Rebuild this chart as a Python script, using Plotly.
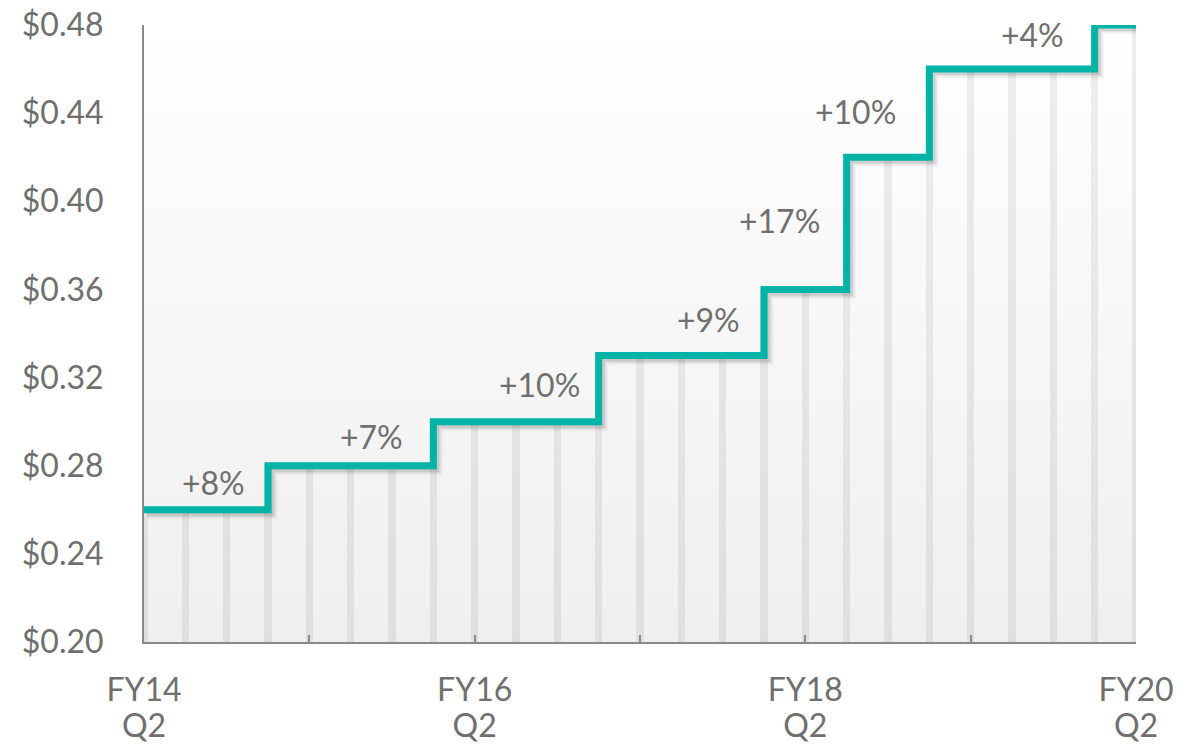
import plotly.graph_objects as go

# quarterly dividend per share, FY14 Q2 .. FY20 Q2
quarters = list(range(25))
dividend = [0.26] * 3 + [0.28] * 4 + [0.30] * 4 + [0.33] * 4 + [0.36] * 2 + [0.42] * 2 + [0.46] * 4 + [0.48] * 2

# dividend raises: quarter where the step happens and the label
raise_quarters = [3, 7, 11, 15, 17, 19, 23]
raise_labels = ["+8%", "+7%", "+10%", "+9%", "+17%", "+10%", "+4%"]

tick_quarters = [0, 4, 8, 12, 16, 20, 24]
tick_years = ["FY14", "", "FY16", "", "FY18", "", "FY20"]
tick_quarter_names = ["Q2", "", "Q2", "", "Q2", "", "Q2"]

y_ticks = [0.20, 0.24, 0.28, 0.32, 0.36, 0.40, 0.44, 0.48]

FONT = "Lato, 'Open Sans', sans-serif"
GREY = "#6f6f6f"
AXIS_GREY = "#8a8a8a"
TEAL = "#00b3a7"
X_RANGE = [0, 24]
Y_RANGE = [0.20, 0.48]

fig = go.Figure()

# gradient background of the plot area (base subplot, drawn first)
fig.add_trace(
    go.Scatter(
        x=X_RANGE,
        y=[Y_RANGE[1], Y_RANGE[1]],
        mode="lines",
        line={"width": 0},
        fill="tozeroy",
        fillgradient={
            "type": "vertical",
            "colorscale": [[0, "#efefef"], [1, "#ffffff"]],
            "start": Y_RANGE[0],
            "stop": Y_RANGE[1],
        },
        hoverinfo="skip",
        showlegend=False,
    )
)

# thin quarter bars
fig.add_trace(
    go.Bar(
        x=quarters,
        y=dividend,
        width=0.17,
        marker={"color": "rgba(0,0,0,0.065)", "line": {"width": 0}},
        xaxis="x2",
        yaxis="y2",
        hoverinfo="skip",
        showlegend=False,
    )
)

# soft shadow of the step line, drawn on slightly offset axes
for width, alpha in [(13, 0.04), (9, 0.07), (6, 0.08)]:
    fig.add_trace(
        go.Scatter(
            x=quarters,
            y=dividend,
            mode="lines",
            line={"shape": "hv", "color": f"rgba(0,0,0,{alpha})", "width": width},
            xaxis="x3",
            yaxis="y3",
            hoverinfo="skip",
            showlegend=False,
        )
    )

fig.add_trace(
    go.Scatter(
        x=quarters,
        y=dividend,
        mode="lines",
        line={"shape": "hv", "color": TEAL, "width": 7},
        xaxis="x4",
        yaxis="y4",
        showlegend=False,
    )
)

label_yshift = [27, 29, 37, 36, 69, 46, 35]
label_xshift = [-21, -28, -17, -22, -25, -31, -29]
annotations = []
for q, text, ys, xs in zip(raise_quarters, raise_labels, label_yshift, label_xshift):
    annotations.append(
        go.layout.Annotation(
            x=q,
            y=dividend[q - 1],
            text=text,
            showarrow=False,
            xanchor="right",
            yanchor="middle",
            xshift=xs,
            yshift=ys,
            font={"family": FONT, "size": 32, "color": GREY},
        )
    )

dx = 3 * (X_RANGE[1] - X_RANGE[0]) / 992
dy = 3 * (Y_RANGE[1] - Y_RANGE[0]) / 617
hidden = {"visible": False, "automargin": False}
tick_font = {"family": FONT, "size": 32, "color": GREY}

fig.update_layout(
    width=1187,
    height=744,
    autosize=False,
    margin={"l": 144, "r": 51, "t": 25, "b": 102},
    paper_bgcolor="white",
    plot_bgcolor="white",
    bargap=0,
    showlegend=False,
    annotations=annotations,
    font={"family": FONT, "size": 32, "color": GREY},
    xaxis={
        "range": X_RANGE,
        "tickvals": tick_quarters,
        "ticktext": tick_years,
        "ticks": "inside",
        "ticklen": 7,
        "tickwidth": 1.5,
        "tickcolor": AXIS_GREY,
        "showline": True,
        "linecolor": AXIS_GREY,
        "linewidth": 2,
        "showgrid": False,
        "zeroline": False,
        "automargin": False,
        "tickfont": tick_font,
        "ticklabelstandoff": 19,
        "ticklabeloverflow": "allow",
    },
    yaxis={
        "range": Y_RANGE,
        "tickvals": y_ticks,
        "ticktext": [f"${v:.2f}" for v in y_ticks],
        "ticks": "",
        "showline": True,
        "linecolor": AXIS_GREY,
        "linewidth": 2,
        "showgrid": False,
        "zeroline": False,
        "automargin": False,
        "tickfont": tick_font,
        "ticklabelstandoff": 32,
        "ticklabeloverflow": "allow",
    },
    xaxis2={"range": X_RANGE, "overlaying": "x", **hidden},
    yaxis2={"range": Y_RANGE, "overlaying": "y", **hidden},
    xaxis3={"range": [X_RANGE[0] - dx, X_RANGE[1] - dx], "overlaying": "x", **hidden},
    yaxis3={"range": [Y_RANGE[0] + dy, Y_RANGE[1] + dy], "overlaying": "y", **hidden},
    # second row of x labels (Q2) lives on the line's overlay axis
    xaxis4={
        "range": X_RANGE,
        "overlaying": "x",
        "tickvals": tick_quarters,
        "ticktext": tick_quarter_names,
        "ticks": "",
        "showline": False,
        "showgrid": False,
        "zeroline": False,
        "automargin": False,
        "tickfont": tick_font,
        "ticklabelstandoff": 62,
        "ticklabeloverflow": "allow",
    },
    yaxis4={"range": Y_RANGE, "overlaying": "y", **hidden},
)

# drop the default body margin so the 1187x744 figure fills the window exactly
fig.write_html(
    "out.html",
    config={"displayModeBar": False},
    post_script="document.body.style.margin='0'; document.body.style.overflow='hidden';",
)
